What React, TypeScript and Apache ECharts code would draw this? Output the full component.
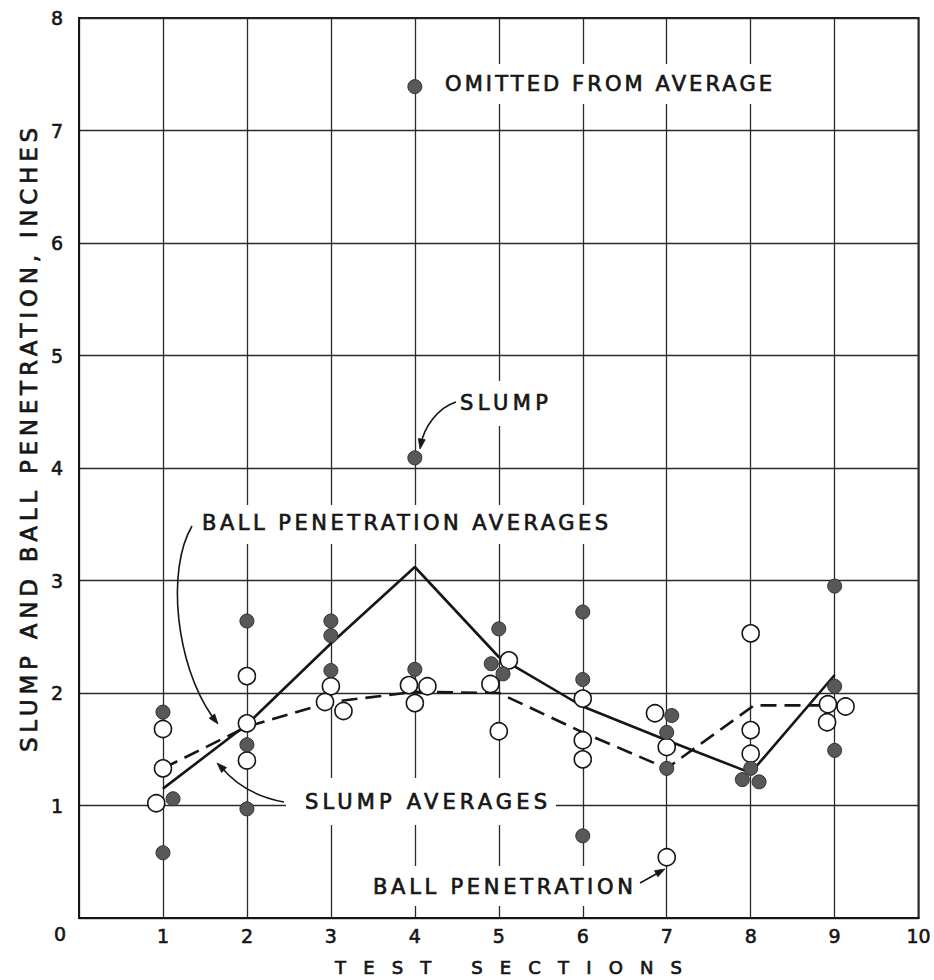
import React, { useEffect, useRef } from 'react';
import * as echarts from 'echarts';

// ---- data ----
const sectionTicks = [0, 1, 2, 3, 4, 5, 6, 7, 8, 9, 10];
const inchTicks = [0, 1, 2, 3, 4, 5, 6, 7, 8];

// slump (filled circles) [test section, inches]
const slumpPoints: [number, number][] = [
  [1, 1.83], [1.12, 1.06], [1, 0.58],
  [2, 2.64], [2, 1.54], [2, 0.97],
  [3, 2.64], [3, 2.51], [3, 2.2],
  [4, 2.21], [4, 4.09], [4, 7.39],
  [5, 2.57], [4.91, 2.26], [5.05, 2.17],
  [6, 2.72], [6, 2.12], [6, 0.73],
  [7.06, 1.8], [7, 1.65], [7, 1.33],
  [8, 1.33], [7.9, 1.23], [8.1, 1.21],
  [9, 2.95], [9, 2.06], [9, 1.49],
];

// ball penetration (open circles)
const ballPoints: [number, number][] = [
  [1, 1.68], [1, 1.33], [0.92, 1.02],
  [2, 2.15], [2, 1.73], [2, 1.4],
  [3, 2.06], [2.93, 1.92], [3.15, 1.84],
  [3.93, 2.07], [4.15, 2.06], [4, 1.91],
  [5.12, 2.29], [4.9, 2.08], [5, 1.66],
  [6, 1.95], [6, 1.58], [6, 1.41],
  [6.86, 1.82], [7, 1.52], [7, 0.54],
  [8, 2.53], [8, 1.67], [8, 1.46],
  [8.92, 1.9], [9.13, 1.88], [8.91, 1.74],
];

const slumpAverages: [number, number][] = [
  [1, 1.15], [2, 1.72], [3, 2.44], [4, 3.12], [5, 2.32], [6, 1.88], [7, 1.58], [8, 1.29], [9, 2.16],
];

const ballAverages: [number, number][] = [
  [1, 1.33], [2, 1.7], [3, 1.92], [4, 2.01], [5, 2.0], [6, 1.65], [7, 1.33], [8.04, 1.89], [9, 1.89],
];

// ---- layout / style ----
const FAMILY = '"DejaVu Sans", sans-serif';
const INK = '#161616';

type Label = { text: string; x: number; y: number; width: number; size: number; rotate?: number };
const labels: Label[] = [
  { text: 'OMITTED FROM AVERAGE', x: 445, y: 84, width: 327, size: 21 },
  { text: 'SLUMP', x: 460, y: 403, width: 88, size: 21 },
  { text: 'BALL PENETRATION AVERAGES', x: 202, y: 523, width: 406, size: 21 },
  { text: 'SLUMP AVERAGES', x: 305, y: 802, width: 242, size: 21 },
  { text: 'BALL PENETRATION', x: 373, y: 887, width: 260, size: 21 },
  { text: 'TEST SECTIONS', x: 335, y: 967, width: 347, size: 18 },
  { text: 'SLUMP AND BALL PENETRATION, INCHES', x: 29, y: 752, width: 624, size: 23, rotate: Math.PI / 2 },
];

const whiteBoxes = [
  { x: 432, y: 64, width: 355, height: 40 },
  { x: 453, y: 381, width: 102, height: 45 },
  { x: 196, y: 505, width: 420, height: 39 },
  { x: 286, y: 778, width: 270, height: 47 },
  { x: 366, y: 866, width: 272, height: 40 },
];

function arrowHead(tx: number, ty: number, fx: number, fy: number, len = 10, half = 3.5) {
  const dx = tx - fx;
  const dy = ty - fy;
  const d = Math.hypot(dx, dy) || 1;
  const ux = dx / d;
  const uy = dy / d;
  const bx = tx - ux * len;
  const by = ty - uy * len;
  return {
    type: 'polygon',
    z: 6,
    shape: {
      points: [
        [tx, ty],
        [bx - uy * half, by + ux * half],
        [bx + uy * half, by - ux * half],
      ],
    },
    style: { fill: INK, stroke: INK, lineWidth: 0.8 },
  };
}

export default function App() {
  const ref = useRef<HTMLDivElement>(null);

  useEffect(() => {
    if (!ref.current) return;
    const el = ref.current;
    const chart = echarts.init(el, undefined, { renderer: 'svg' });

    const ctx = document.createElement('canvas').getContext('2d')!;
    const spacing: Record<string, number> = {};
    labels.forEach((l) => {
      ctx.font = `${l.size}px "DejaVu Sans"`;
      const w = ctx.measureText(l.text).width;
      spacing[l.text] = Math.max(0, (l.width - w) / (l.text.length - 1));
    });

    const arrowStroke = { stroke: INK, lineWidth: 1.6, fill: 'none' };

    const graphic: any[] = [
      ...whiteBoxes.map((b) => ({
        type: 'rect',
        z: 1,
        shape: b,
        style: { fill: '#ffffff' },
        silent: true,
      })),
      ...labels.map((l) => ({
        type: 'text',
        x: l.x,
        y: l.y,
        rotation: l.rotate ?? 0,
        z: 6,
        style: {
          text: l.text,
          fontSize: l.size,
          fontFamily: FAMILY,
          fill: INK,
          stroke: INK,
          lineWidth: 0.7,
          textAlign: 'left',
          verticalAlign: 'middle',
          textVerticalAlign: 'middle',
        },
      })),
      {
        type: 'text',
        x: 60,
        y: 934,
        z: 6,
        style: {
          text: '0',
          fontSize: 19,
          fontFamily: FAMILY,
          fill: INK,
          stroke: INK,
          lineWidth: 0.6,
          textAlign: 'center',
          verticalAlign: 'middle',
          textVerticalAlign: 'middle',
        },
      },
      // SLUMP -> single point
      {
        type: 'bezierCurve',
        z: 6,
        shape: { x1: 456, y1: 402, cpx1: 437, cpy1: 408, cpx2: 424, cpy2: 428, x2: 421, y2: 444 },
        style: arrowStroke,
      },
      arrowHead(420, 449, 422, 438),
      // BALL PENETRATION AVERAGES -> dashed line
      {
        type: 'bezierCurve',
        z: 6,
        shape: { x1: 192, y1: 526, cpx1: 166, cpx2: 176, cpy1: 570, cpy2: 665, x2: 212, y2: 716 },
        style: arrowStroke,
      },
      arrowHead(218, 724, 208, 711),
      // SLUMP AVERAGES -> solid line
      {
        type: 'bezierCurve',
        z: 6,
        shape: { x1: 284, y1: 802, cpx1: 245, cpy1: 795, x2: 222, y2: 768 },
        style: arrowStroke,
      },
      arrowHead(217, 763, 227, 773),
      // BALL PENETRATION -> open circle
      {
        type: 'line',
        z: 6,
        shape: { x1: 640, y1: 883, x2: 658, y2: 873 },
        style: arrowStroke,
      },
      arrowHead(665, 869, 652, 876),
    ];

    const tickLabel = {
      color: INK,
      fontSize: 19,
      fontFamily: FAMILY,
      textBorderColor: INK,
      textBorderWidth: 0.6,
    };

    const option: any = {
      animation: false,
      backgroundColor: '#ffffff',
      grid: {
        left: 79,
        top: 18,
        right: 13,
        bottom: 62,
        show: true,
        borderColor: INK,
        borderWidth: 2,
        backgroundColor: 'transparent',
        containLabel: false,
      },
      xAxis: {
        type: 'value',
        min: sectionTicks[0],
        max: sectionTicks[sectionTicks.length - 1],
        interval: 1,
        axisLine: { show: true, lineStyle: { color: INK, width: 2 } },
        axisTick: { show: false },
        axisLabel: {
          ...tickLabel,
          margin: 8,
          formatter: (v: number) => (v === 0 ? '' : String(v)),
        },
        splitLine: { show: true, lineStyle: { color: '#2a2a2a', width: 1.3 } },
      },
      yAxis: {
        type: 'value',
        min: inchTicks[0],
        max: inchTicks[inchTicks.length - 1],
        interval: 1,
        axisLine: { show: true, lineStyle: { color: INK, width: 2 } },
        axisTick: { show: false },
        axisLabel: {
          ...tickLabel,
          margin: 16,
          formatter: (v: number) => (v === 0 ? '' : String(v)),
        },
        splitLine: { show: true, lineStyle: { color: '#2a2a2a', width: 1.4 } },
      },
      series: [
        {
          name: 'Slump averages',
          type: 'line',
          data: slumpAverages,
          showSymbol: false,
          z: 2,
          lineStyle: { color: INK, width: 2.6 },
        },
        {
          name: 'Ball penetration averages',
          type: 'line',
          data: ballAverages,
          showSymbol: false,
          z: 2,
          lineStyle: { color: INK, width: 2.6, type: [16, 8] },
        },
        {
          name: 'Ball penetration',
          type: 'scatter',
          data: ballPoints,
          symbol: 'circle',
          symbolSize: 17,
          z: 3,
          itemStyle: { color: '#ffffff', borderColor: INK, borderWidth: 1.6, opacity: 1 },
        },
        {
          name: 'Slump',
          type: 'scatter',
          data: slumpPoints,
          symbol: 'circle',
          symbolSize: 14,
          z: 4,
          itemStyle: { color: '#585858', borderColor: '#333333', borderWidth: 1, opacity: 1 },
        },
      ],
      graphic,
    };

    const applySpacing = () => {
      el.querySelectorAll('text').forEach((t) => {
        const s = spacing[t.textContent ?? ''];
        if (s) t.setAttribute('letter-spacing', s.toFixed(2));
      });
    };

    chart.on('rendered', applySpacing);
    chart.setOption(option);
    applySpacing();

    return () => {
      chart.dispose();
    };
  }, []);

  return (
    <div
      ref={ref}
      style={{ position: 'absolute', left: 0, top: 0, width: 934, height: 980, background: '#fff' }}
    />
  );
}
